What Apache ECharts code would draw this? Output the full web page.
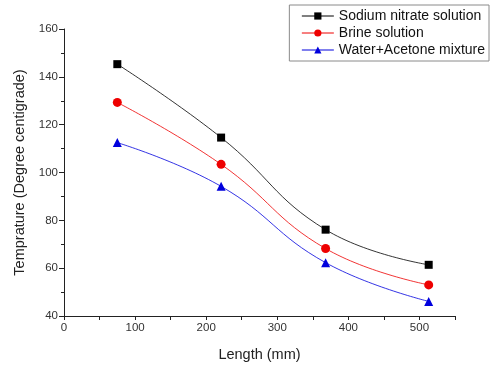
<!DOCTYPE html>
<html>
<head>
<meta charset="utf-8">
<script src="https://cdn.jsdelivr.net/npm/echarts@6/dist/echarts.min.js"></script>
<style>
  html, body { margin: 0; padding: 0; background: #fff; }
  #chart { width: 490px; height: 367px; }
</style>
</head>
<body>
<div id="chart"></div>
<script>
// Length (mm) along the x axis
const lengths = [75, 221, 368, 513];

// temperature readings per fluid
const sodiumNitrate = [145.3, 114.6, 76.1, 61.4];
const brine = [129.3, 103.4, 68.2, 53.0];
const waterAcetone = [112.5, 94.2, 62.3, 46.1];

const seriesNames = ['Sodium nitrate solution', 'Brine solution', 'Water+Acetone mixture'];

const font = 'Arial, "Liberation Sans", sans-serif';

const pairs = (ys) => lengths.map((x, i) => [x, ys[i]]);

const chart = echarts.init(document.getElementById('chart'));

const makeSeries = (name, ys, color, symbol, size) => ({
  name,
  type: 'line',
  data: pairs(ys),
  smooth: 0.45,
  symbol,
  symbolSize: size,
  showSymbol: true,
  lineStyle: { color, width: 0.8 },
  itemStyle: { color },
  z: 3,
});

chart.setOption({
  animation: false,
  grid: { left: 64, right: 35, top: 29, bottom: 50 },
  legend: {
    right: 1,
    top: 5,
    orient: 'vertical',
    itemGap: 3,
    itemWidth: 32,
    itemHeight: 9,
    padding: [4, 4, 4, 12],
    borderColor: '#8a8a8a',
    borderWidth: 1,
    backgroundColor: '#fff',
    lineStyle: { width: 1 },
    textStyle: { fontFamily: font, fontSize: 14, color: '#111' },
    data: seriesNames,
  },
  xAxis: {
    type: 'value',
    min: 0,
    max: 550,
    interval: 50,
    name: 'Length (mm)',
    nameLocation: 'middle',
    nameGap: 31,
    nameTextStyle: { fontFamily: font, fontSize: 14.5, color: '#222' },
    axisLine: { lineStyle: { color: '#222', width: 1 } },
    axisTick: { show: true, inside: false, length: 4, lineStyle: { color: '#222' } },
    axisLabel: {
      fontFamily: font,
      fontSize: 11.5,
      color: '#333',
      margin: 6,
      formatter: (v) => (v % 100 === 0 ? String(v) : ''),
    },
    splitLine: { show: false },
  },
  yAxis: {
    type: 'value',
    min: 40,
    max: 160,
    interval: 20,
    name: 'Temprature (Degree centigrade)',
    nameLocation: 'middle',
    nameGap: 37,
    nameTextStyle: { fontFamily: font, fontSize: 14.5, color: '#222' },
    axisLine: { show: true, lineStyle: { color: '#222', width: 1 } },
    axisTick: { show: true, inside: false, length: 5, lineStyle: { color: '#222' } },
    minorTick: { show: true, splitNumber: 2, length: 3, lineStyle: { color: '#222' } },
    axisLabel: { fontFamily: font, fontSize: 11.5, color: '#333', margin: 6 },
    splitLine: { show: false },
  },
  series: [
    makeSeries(seriesNames[0], sodiumNitrate, '#000000', 'rect', 8),
    makeSeries(seriesNames[1], brine, '#ee0000', 'circle', 9),
    makeSeries(seriesNames[2], waterAcetone, '#0000dd', 'triangle', 9),
  ],
});
</script>
</body>
</html>
